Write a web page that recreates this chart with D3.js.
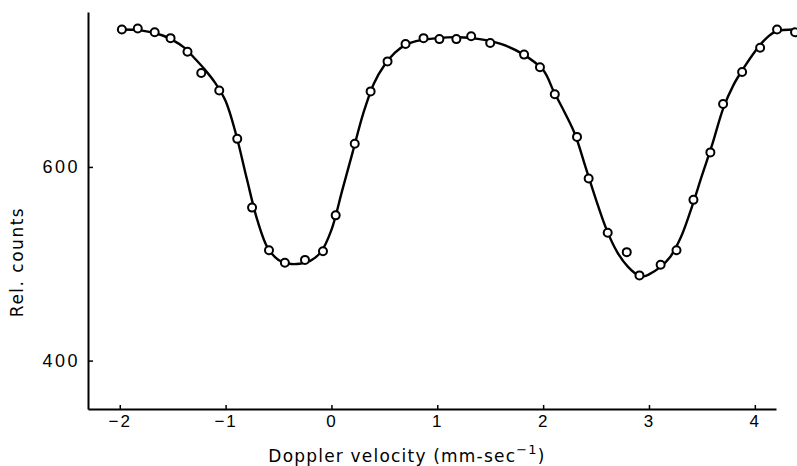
<!DOCTYPE html>
<html>
<head>
<meta charset="utf-8">
<script src="https://cdn.jsdelivr.net/npm/d3@7"></script>
<style>
  body { margin: 0; background: #fff; }
  svg { display: block; font-family: "DejaVu Sans", sans-serif; }
</style>
</head>
<body>
<svg id="chart" width="797" height="466"></svg>
<script>
// measured points (Doppler velocity, rel. counts)
var pointV = [-1.98, -1.83, -1.67, -1.52, -1.36, -1.23, -1.06, -0.89, -0.75, -0.59, -0.44, -0.25, -0.08,
	0.04, 0.22, 0.37, 0.53, 0.70, 0.87, 1.02, 1.18, 1.32, 1.50, 1.82, 1.97, 2.11, 2.32, 2.43, 2.61,
	2.79, 2.91, 3.11, 3.26, 3.42, 3.58, 3.70, 3.88, 4.05, 4.21, 4.38];
var pointC = [742, 743, 739, 733, 719, 697, 679, 629, 558, 514, 501, 504, 513,
	550, 624, 678, 709, 727, 733, 732, 732, 735, 728, 716, 703, 675, 631, 588, 532,
	512, 488, 499, 514, 566, 615, 665, 698, 723, 742, 739];

// fitted curve
var curveV = [-1.98, -1.8, -1.6, -1.5, -1.4, -1.3, -1.2, -1.1, -1.0, -0.9, -0.8, -0.7, -0.6, -0.5, -0.4, -0.3,
	-0.2, -0.1, 0.0, 0.1, 0.2, 0.3, 0.4, 0.5, 0.6, 0.7, 0.8, 1.0, 1.2, 1.4, 1.6, 1.8, 2.0, 2.1, 2.2,
	2.3, 2.4, 2.5, 2.6, 2.7, 2.8, 2.9, 2.95, 3.0, 3.1, 3.2, 3.3, 3.4, 3.5, 3.6, 3.7, 3.8, 3.9, 4.0,
	4.1, 4.2, 4.38];
var curveC = [742, 741, 736, 731, 724, 713, 701, 687, 668, 633, 588, 545, 516, 504, 500, 500,
	503, 512, 535, 575, 615, 655, 686, 705, 718, 726, 730, 733, 734, 732, 727, 717, 700, 678, 657,
	634, 600, 566, 535, 512, 497, 488, 487, 489, 496, 507, 527, 557, 591, 624, 660, 685, 703, 719,
	732, 740, 742];

var xTicks = [-2, -1, 0, 1, 2, 3, 4];
var yTicks = [400, 600];

var svg = d3.select("#chart");

var x = d3.scaleLinear().domain([-2.3, 4.2]).range([88, 776]);
var y = d3.scaleLinear().domain([350, 760]).range([409, 12]);

// X axis
var gx = svg.append("g")
	.attr("transform", "translate(0," + y(350) + ")")
	.call(d3.axisBottom(x).tickValues(xTicks).tickSize(-4).tickSizeOuter(0).tickPadding(6)
		.tickFormat(d => d < 0 ? "\u2212" + Math.abs(d) : d));
gx.select(".domain").attr("stroke", "#000").attr("stroke-width", 2);
gx.selectAll(".tick line").attr("stroke", "#000").attr("stroke-width", 1.5);
gx.selectAll("text")
	.style("font-size", "17px")
	.style("letter-spacing", "2px")
	.attr("fill", "#000");

// Y axis
var gy = svg.append("g")
	.attr("transform", "translate(" + x(-2.3) + ",0)")
	.call(d3.axisLeft(y).tickValues(yTicks).tickSize(-5).tickSizeOuter(0).tickPadding(8));
gy.select(".domain").attr("stroke", "#000").attr("stroke-width", 2);
gy.selectAll(".tick line").attr("stroke", "#000").attr("stroke-width", 1.5);
gy.selectAll("text")
	.style("font-size", "18px")
	.style("letter-spacing", "2.5px")
	.attr("fill", "#000");

// axis titles
var xl = svg.append("text")
	.attr("x", 407)
	.attr("y", 462)
	.attr("text-anchor", "middle")
	.style("font-size", "17px")
	.style("letter-spacing", "1.2px");
xl.append("tspan").text("Doppler velocity (mm-sec");
xl.append("tspan").attr("dy", -8).style("font-size", "13px").text("\u22121");
xl.append("tspan").attr("dy", 8).text(")");

svg.append("text")
	.attr("transform", "translate(23,262) rotate(-90)")
	.attr("text-anchor", "middle")
	.style("font-size", "17px")
	.style("letter-spacing", "1.5px")
	.text("Rel. counts");

// fitted curve
var curve = curveV.map((v, i) => [v, curveC[i]]);
svg.append("path")
	.datum(curve)
	.attr("fill", "none")
	.attr("stroke", "#000")
	.attr("stroke-width", 2.4)
	.attr("d", d3.line().x(d => x(d[0])).y(d => y(d[1])).curve(d3.curveCatmullRom));

// points
var pts = pointV.map((v, i) => ({ v: v, c: pointC[i] }));
svg.selectAll(".pt")
	.data(pts)
	.enter()
	.append("circle")
	.attr("class", "pt")
	.attr("cx", d => x(d.v))
	.attr("cy", d => y(d.c))
	.attr("r", 4)
	.attr("fill", "#fff")
	.attr("stroke", "#000")
	.attr("stroke-width", 2);
</script>
</body>
</html>
